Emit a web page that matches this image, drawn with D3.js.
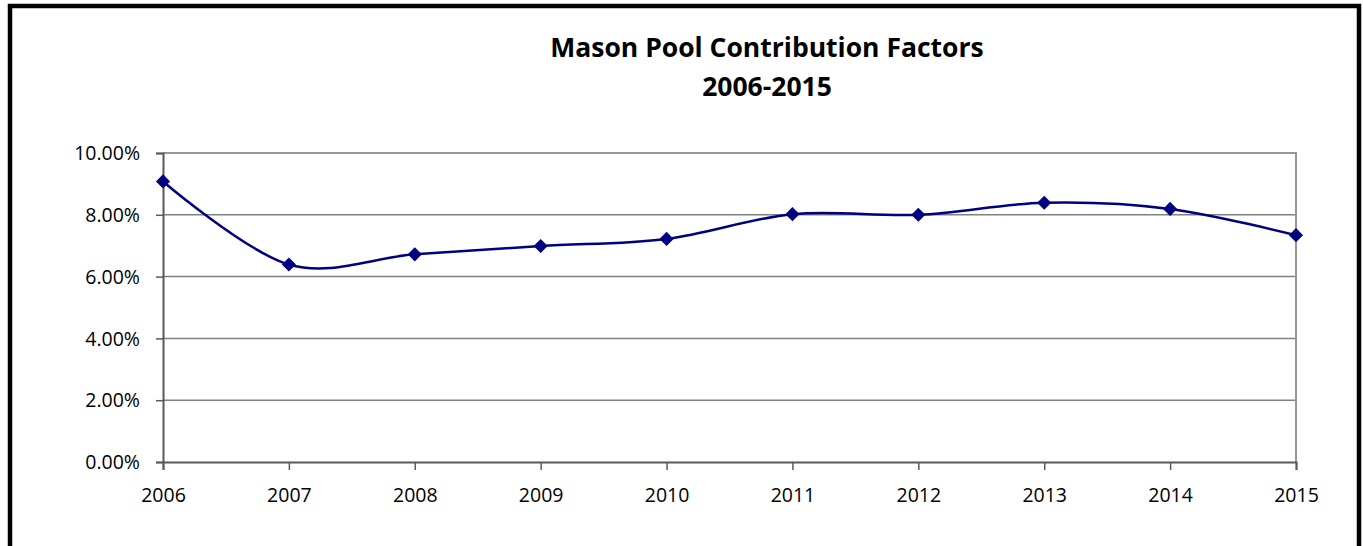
<!DOCTYPE html>
<html><head><meta charset="utf-8">
<script src="https://cdn.jsdelivr.net/npm/d3@7"></script>
<style>body{margin:0;background:#fff}svg{display:block}</style>
</head><body>
<script>
const years = ["2006","2007","2008","2009","2010","2011","2012","2013","2014","2015"];
const factors = [0.0908, 0.0639, 0.0672, 0.0699, 0.0722, 0.0802, 0.0800, 0.0839, 0.0819, 0.0734];
const yTicks = [0, 0.02, 0.04, 0.06, 0.08, 0.10];
const titleLines = ["Mason Pool Contribution Factors", "2006-2015"];

const W = 1363, H = 546;
const svg = d3.select("body").append("svg").attr("width", W).attr("height", H);
const font = "'Open Sans', sans-serif";

// outer frame
svg.append("path").attr("d", `M10,548 L10,6 L1359,6 L1359,548`)
  .attr("fill","none").attr("stroke","#000").attr("stroke-width",4.5);

const L = 163, R = 1296, T = 153, B = 462;
const x = d3.scalePoint().domain(years).range([L, R]);
const y = d3.scaleLinear().domain([0, 0.10]).range([B, T]);

// gridlines
svg.append("g").selectAll("line").data(yTicks.slice(1,-1)).join("line")
  .attr("x1", L).attr("x2", R).attr("y1", d=>y(d)).attr("y2", d=>y(d))
  .attr("stroke","#808080").attr("stroke-width",1.5);

// plot border top/right
svg.append("path").attr("d", `M${L},${T} L${R},${T} L${R},${B}`)
  .attr("fill","none").attr("stroke","#969696").attr("stroke-width",2);

// y axis
const yAxis = svg.append("g").attr("transform",`translate(${L},0)`)
  .call(d3.axisLeft(y).tickValues(yTicks).tickFormat(d3.format(".2%")).tickSizeOuter(0).tickSize(7).tickPadding(16));
yAxis.select(".domain").attr("stroke","#595959").attr("stroke-width",2);
yAxis.selectAll(".tick line").attr("stroke","#595959").attr("stroke-width",1.5);
yAxis.selectAll("text").attr("font-family",font).attr("font-size",19.5).attr("fill","#000").attr("dy","0.34em");

// x axis
const xAxis = svg.append("g").attr("transform",`translate(0,${B})`)
  .call(d3.axisBottom(x).tickSizeOuter(0).tickSize(8).tickPadding(0));
xAxis.select(".domain").attr("stroke","#595959").attr("stroke-width",2);
xAxis.selectAll(".tick line").attr("stroke","#595959").attr("stroke-width",1.5);
xAxis.selectAll("text").attr("font-family",font).attr("font-size",19.5).attr("fill","#000")
  .attr("dy",null).attr("y",40);

// line
const line = d3.line().x((d,i)=>x(years[i])).y(d=>y(d)).curve(d3.curveCardinal.tension(0));
svg.append("path").datum(factors).attr("d", line)
  .attr("fill","none").attr("stroke","#000080").attr("stroke-width",2.5);

// markers
svg.append("g").selectAll("path").data(factors).join("path")
  .attr("d", d3.symbol().type(d3.symbolSquare).size(100))
  .attr("transform",(d,i)=>`translate(${x(years[i])},${y(d)}) rotate(45)`)
  .attr("fill","#000080");

// title
svg.append("g").selectAll("text").data(titleLines).join("text")
  .attr("x", 767).attr("y",(d,i)=>57 + i*39)
  .attr("text-anchor","middle").attr("font-family",font).attr("font-weight","bold")
  .attr("font-size",26.5).attr("fill","#000").text(d=>d);
</script>
</body></html>
